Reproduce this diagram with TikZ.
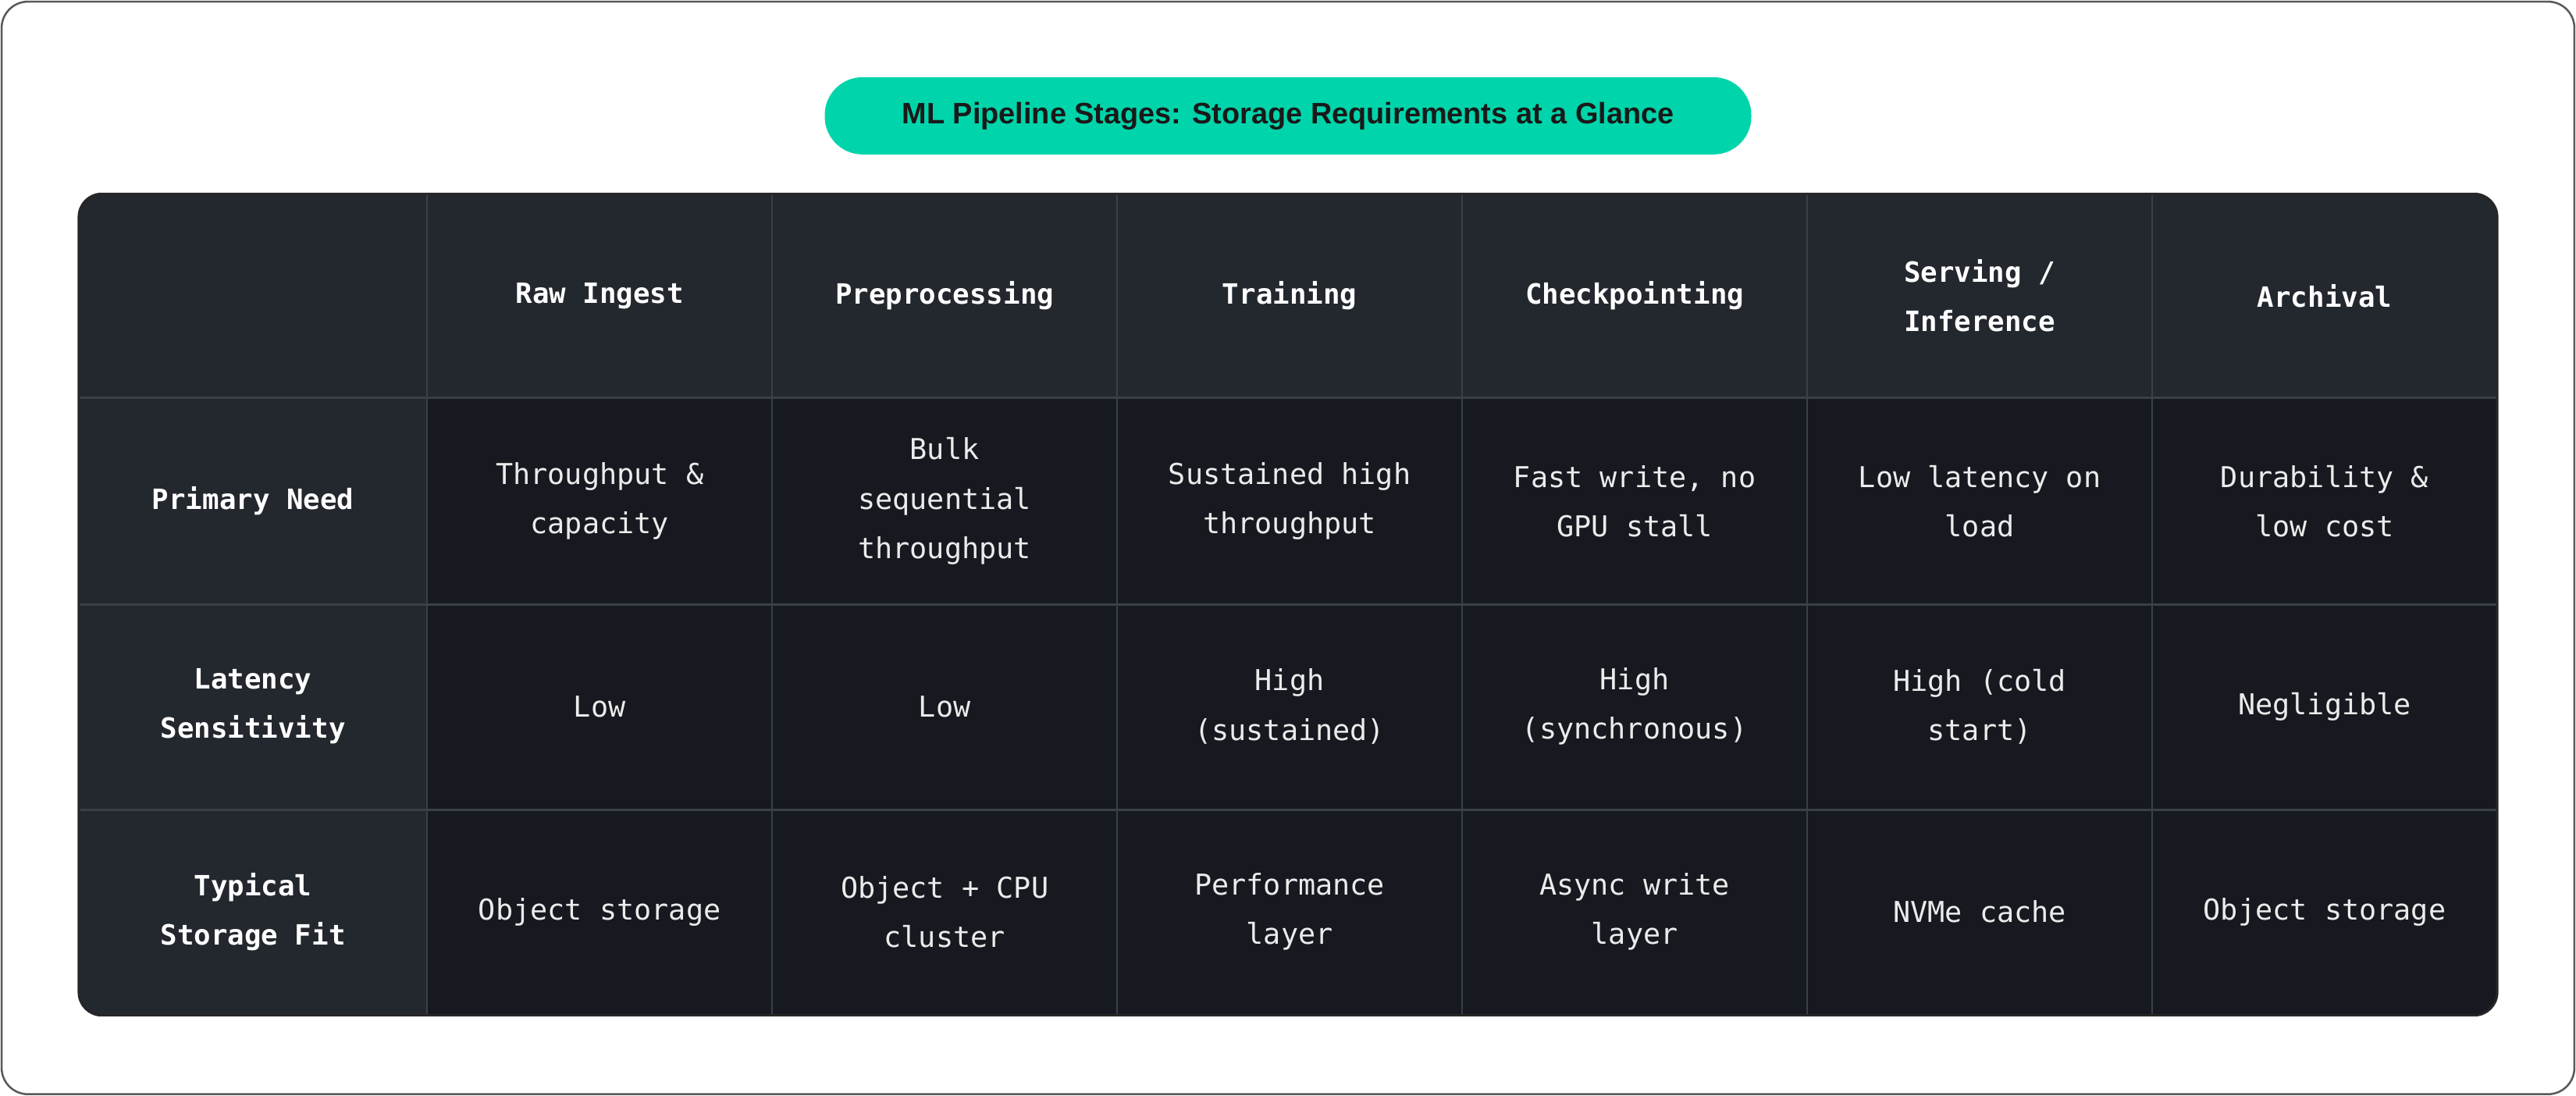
\documentclass[tikz,border=0pt]{standalone}
\usepackage{fontspec}
\setmainfont{Liberation Sans}
\newfontfamily\mono{DejaVu Sans Mono}
\begin{document}
\begin{tikzpicture}[x=1pt,y=-1pt,
  hdr/.style={font=\mono\bfseries\fontsize{17}{30}\selectfont,text=white,align=center},
  cell/.style={font=\mono\fontsize{17.5}{30}\selectfont,text=white!92!black,align=center}]
\definecolor{hd}{HTML}{23272E}
\definecolor{bd}{HTML}{16191F}
\definecolor{gl}{HTML}{3B4048}
\definecolor{teal}{HTML}{00D4AA}
\useasboundingbox (0,0) rectangle (1568,667);
\draw[gray!70!black,line width=1.2,rounded corners=16,fill=white] (1,1) rectangle (1567,666);
\node[fill=teal,rounded corners=23,minimum width=564,minimum height=47,font=\bfseries\fontsize{18}{20}\selectfont,text=black!90] (title) at (784,70.5) {ML Pipeline Stages: Storage Requirements at a Glance};
\begin{scope}
\clip[rounded corners=14] (48,118) rectangle (1520,618);
\fill[bd] (48,118) rectangle (1520,618);
\fill[hd] (48,118) rectangle (1520,242);
\fill[hd] (48,118) rectangle (260,618);
\foreach \x in {260,470,680,890,1100,1310} \draw[gl,line width=1.2] (\x,118) -- (\x,618);
\foreach \y in {242,368,493} \draw[gl,line width=1.2] (48,\y) -- (1520,\y);
\end{scope}
\draw[black!85,line width=1.5,rounded corners=14] (48,118) rectangle (1520,618);
\node[hdr] (h1) at (365,180) {Raw Ingest};
\node[hdr] (h2) at (575,180) {Preprocessing};
\node[hdr] (h3) at (785,180) {Training};
\node[hdr] (h4) at (995,180) {Checkpointing};
\node[hdr] (h5) at (1205,180) {Serving /\\Inference};
\node[hdr] (h6) at (1415,180) {Archival};
\node[hdr] (r1) at (154,305) {Primary Need};
\node[hdr] (r2) at (154,430) {Latency\\Sensitivity};
\node[hdr] (r3) at (154,555) {Typical\\Storage Fit};
\node[cell] (c11) at (365,305) {Throughput \&\\capacity};
\node[cell] (c12) at (575,305) {Bulk\\sequential\\throughput};
\node[cell] (c13) at (785,305) {Sustained high\\throughput};
\node[cell] (c14) at (995,305) {Fast write, no\\GPU stall};
\node[cell] (c15) at (1205,305) {Low latency on\\load};
\node[cell] (c16) at (1415,305) {Durability \&\\low cost};
\node[cell] (c21) at (365,430) {Low};
\node[cell] (c22) at (575,430) {Low};
\node[cell] (c23) at (785,430) {High\\(sustained)};
\node[cell] (c24) at (995,430) {High\\(synchronous)};
\node[cell] (c25) at (1205,430) {High (cold\\start)};
\node[cell] (c26) at (1415,430) {Negligible};
\node[cell] (c31) at (365,555) {Object storage};
\node[cell] (c32) at (575,555) {Object + CPU\\cluster};
\node[cell] (c33) at (785,555) {Performance\\layer};
\node[cell] (c34) at (995,555) {Async write\\layer};
\node[cell] (c35) at (1205,555) {NVMe cache};
\node[cell] (c36) at (1415,555) {Object storage};
\end{tikzpicture}
\end{document}
